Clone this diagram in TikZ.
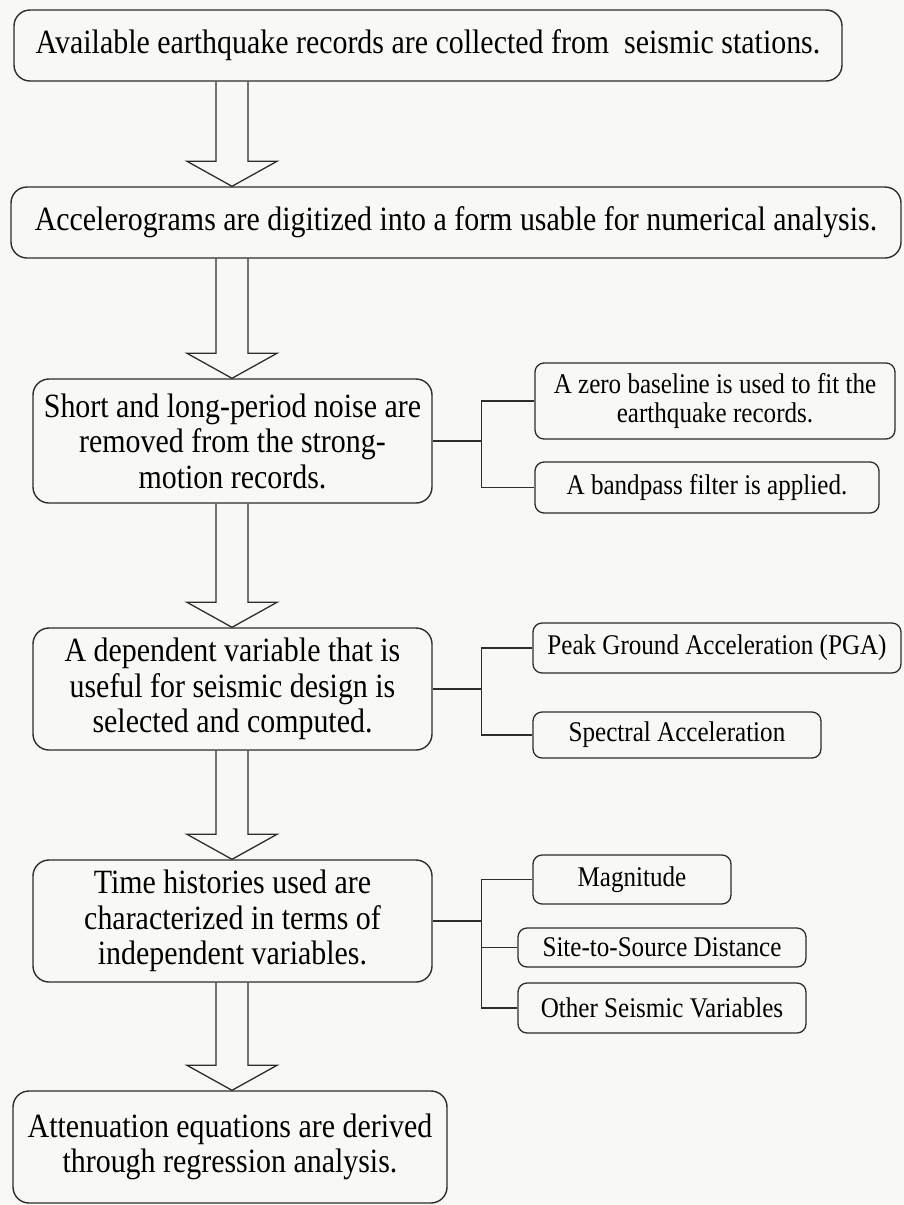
\documentclass[tikz,border=0pt]{standalone}
\usepackage{fontspec}
\setmainfont{Liberation Serif}[FakeStretch=0.88]
\usetikzlibrary{calc}
\definecolor{inkgray}{RGB}{45,45,45}
\definecolor{paper}{RGB}{248,248,246}

% hollow block arrow from the bottom of #1 to the top of #2, on the common axis
\newcommand{\flowarrow}[2]{%
  \draw[hollow] ($(#1.south -| axis)+(-16,0)$) -- ($(#2.north -| axis)+(-16,-25)$)
    -- ++(-29,0) -- (#2.north -| axis) -- ($(#2.north -| axis)+(45,-25)$)
    -- ++(-29,0) -- ($(#1.south -| axis)+(16,0)$);}

\begin{document}
\begin{tikzpicture}[
    x=1pt, y=-1pt,
    stage/.style={draw=inkgray, line width=1.4pt, rounded corners=16pt, align=center,
      font=\fontsize{34}{35.5}\selectfont, inner sep=0pt},
    detail/.style={draw=inkgray, line width=1.3pt, rounded corners=9pt, align=center,
      font=\fontsize{28.5}{29}\selectfont, inner sep=0pt},
    link/.style={draw=inkgray, line width=1.3pt},
    hollow/.style={draw=inkgray, line width=1.3pt, line join=miter},
  ]
  \fill[paper] (0,0) rectangle (904,1205);
  \useasboundingbox (0,0) rectangle (904,1205);
  \coordinate (axis) at (232,0);

  % main stages
  \node[stage, minimum width=828, minimum height=71] (b1) at (428,45.5)
    {Available earthquake records are collected from~ seismic stations.};
  \node[stage, minimum width=890, minimum height=71] (b2) at (456,222.5)
    {Accelerograms are digitized into a form usable for numerical analysis.};
  \node[stage, minimum width=399, minimum height=124] (b3) at (232.5,441)
    {Short and long-period noise are\\removed from the strong-\\motion records.};
  \node[stage, minimum width=399, minimum height=122] (b4) at (232.5,689)
    {A dependent variable that is\\useful for seismic design is\\selected and computed.};
  \node[stage, minimum width=399, minimum height=122] (b5) at (232.5,921)
    {Time histories used are\\characterized in terms of\\independent variables.};
  \node[stage, minimum width=434, minimum height=112] (b6) at (230,1147)
    {Attenuation equations are derived\\through regression analysis.};

  % side details
  \node[detail, minimum width=360, minimum height=76] (s3a) at (715,401)
    {A zero baseline is used to fit the\\earthquake records.};
  \node[detail, minimum width=344, minimum height=51] (s3b) at (707,487.5)
    {A bandpass filter is applied.};
  \node[detail, minimum width=368, minimum height=50] (s4a) at (717,648)
    {Peak Ground Acceleration (PGA)};
  \node[detail, minimum width=288, minimum height=46] (s4b) at (677,735)
    {Spectral Acceleration};
  \node[detail, minimum width=198, minimum height=49] (s5a) at (632,879.5)
    {Magnitude};
  \node[detail, minimum width=288, minimum height=39] (s5b) at (662,947.5)
    {Site-to-Source Distance};
  \node[detail, minimum width=288, minimum height=50] (s5c) at (662,1008)
    {Other Seismic Variables};

  % block arrows
  \flowarrow{b1}{b2}
  \flowarrow{b2}{b3}
  \flowarrow{b3}{b4}
  \flowarrow{b4}{b5}
  \flowarrow{b5}{b6}

  % brackets to the details
  \coordinate (j3) at ($(b3.east)+(49,0)$);
  \coordinate (j4) at ($(b4.east)+(49,0)$);
  \coordinate (j5) at ($(b5.east)+(49,0)$);
  \draw[link] (b3.east) -- (j3);
  \draw[link] (s3a.west) -| (j3) |- (s3b.west);
  \draw[link] (b4.east) -- (j4);
  \draw[link] (s4a.west) -| (j4) |- (s4b.west);
  \draw[link] (b5.east) -- (j5);
  \draw[link] (s5a.west) -| (j5) |- (s5c.west);
  \draw[link] (s5b.west) -- (s5b.west -| j5);
\end{tikzpicture}
\end{document}
